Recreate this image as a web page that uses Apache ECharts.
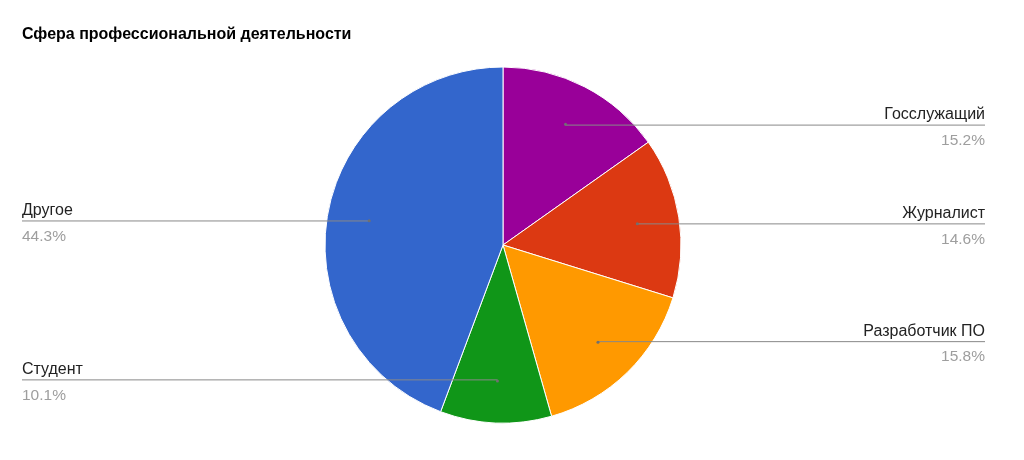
<!DOCTYPE html>
<html>
<head>
<meta charset="utf-8">
<script src="https://cdn.jsdelivr.net/npm/echarts@6/dist/echarts.min.js"></script>
<style>
  html, body { margin: 0; padding: 0; background: #fff; }
  #chart { width: 1024px; height: 460px; }
</style>
</head>
<body>
<div id="chart"></div>
<script>
const titleText = 'Сфера профессиональной деятельности';
const categories = ['Госслужащий', 'Журналист', 'Разработчик ПО', 'Студент', 'Другое'];
const values = [15.2, 14.6, 15.8, 10.1, 44.3];
const colors = ['#990099', '#dc3912', '#ff9900', '#109618', '#3366cc'];

const chart = echarts.init(document.getElementById('chart'), null, { renderer: 'canvas' });

const mainData = categories.map((name, i) => ({ name, value: values[i], itemStyle: { color: colors[i] } }));
const labelData = categories.map((name, i) => ({ name, value: values[i] }));

const FONT = '"Liberation Sans", Arial, sans-serif';

chart.setOption({
  animation: false,
  backgroundColor: '#ffffff',
  title: {
    text: titleText,
    left: 17,
    top: 22,
    textStyle: { fontFamily: FONT, fontSize: 16, fontWeight: 'bold', color: '#000' }
  },
  series: [
    {
      type: 'pie',
      left: 22, right: 39, top: 0, bottom: 0,
      center: [481, 245],
      radius: [0, 178],
      startAngle: 90,
      clockwise: true,
      silent: true,
      label: { show: false },
      labelLine: { show: false },
      itemStyle: { borderColor: '#ffffff', borderWidth: 1 },
      data: mainData
    },
    {
      type: 'pie',
      left: 22, right: 39, top: 0, bottom: 0,
      center: [481, 245],
      radius: [0, 135],
      startAngle: 90,
      clockwise: true,
      silent: true,
      z: 5,
      itemStyle: { color: 'rgba(0,0,0,0)' },
      label: {
        show: true,
        alignTo: 'edge',
        edgeDistance: 0,
        formatter: function (p) { return '{n|' + p.name + '}\n{v|' + p.value + '%}'; },
        rich: {
          n: { fontFamily: FONT, fontSize: 16, color: '#222222', lineHeight: 31 },
          v: { fontFamily: FONT, fontSize: 15.5, color: '#9e9e9e', lineHeight: 20 }
        }
      },
      labelLine: {
        show: true,
        length: 0.01,
        length2: 10,
        minTurnAngle: 0,
        lineStyle: { color: '#888888', width: 1 }
      },
      labelLayout: function (p) {
        const pts = p.labelLinePoints;
        if (!pts || !pts.length) return {};
        const r = p.labelRect;
        const first = pts[0];
        const isRight = first[0] < r.x + r.width / 2;
        const endX = isRight ? r.x + r.width : r.x;
        return { labelLinePoints: [[first[0], first[1]], [endX, first[1]]] };
      },
      data: labelData
    },
    {
      type: 'pie',
      left: 22, right: 39, top: 0, bottom: 0,
      center: [481, 245],
      radius: [132, 134],
      startAngle: 90,
      clockwise: true,
      silent: true,
      z: 6,
      itemStyle: { color: 'rgba(0,0,0,0)' },
      label: {
        show: true,
        position: 'inside',
        formatter: '{d|}',
        rich: {
          d: { width: 3, height: 3, backgroundColor: '#707070', borderRadius: 1.5 }
        }
      },
      labelLine: { show: false },
      data: labelData
    }
  ]
});
</script>
</body>
</html>
